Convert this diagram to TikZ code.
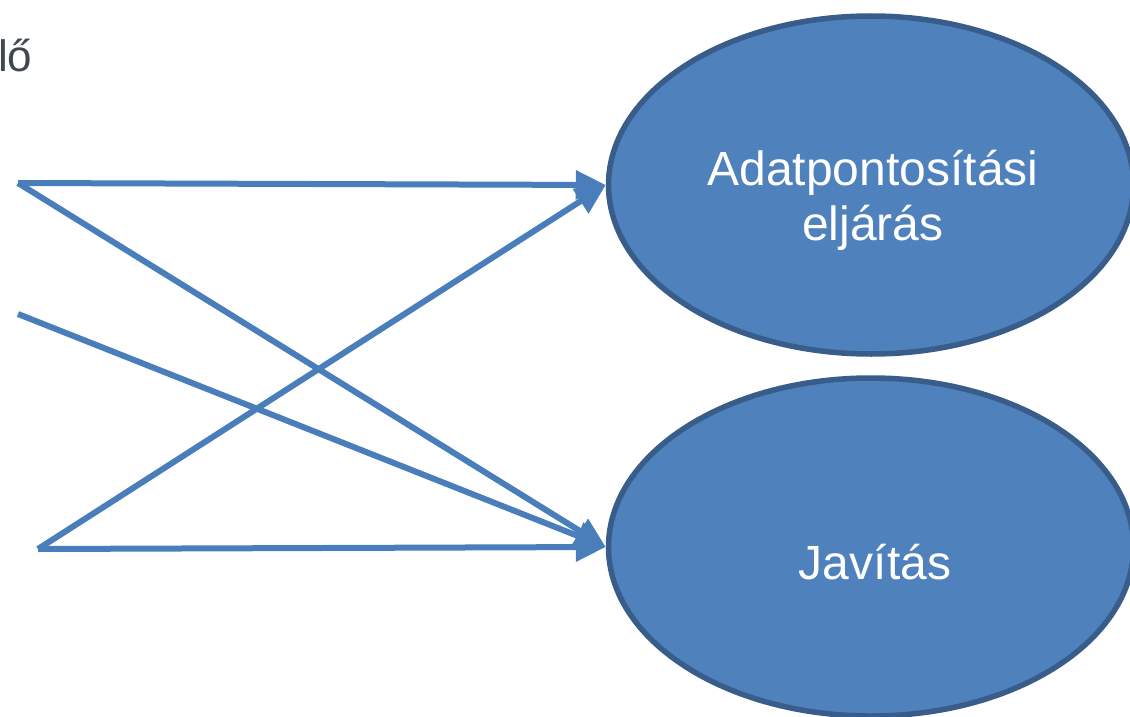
\documentclass[tikz,border=0pt]{standalone}
\usepackage{fontspec}
\setmainfont{Liberation Sans}
\usetikzlibrary{shapes.geometric,arrows.meta}
\definecolor{fillblue}{HTML}{4F81BD}
\definecolor{edgeblue}{HTML}{385D8A}
\definecolor{arrowblue}{HTML}{4A7EBB}
\definecolor{textgray}{HTML}{3F4850}
\begin{document}
\begin{tikzpicture}[x=1pt,y=-1pt,
  bubble/.style={ellipse, draw=edgeblue, fill=fillblue, line width=5.5pt,
    minimum width=525pt, minimum height=338pt, inner sep=0pt},
  bubbletext/.style={anchor=base, text=white, inner sep=0pt,
    font=\fontsize{48}{55}\selectfont},
  conn/.style={draw=arrowblue, line width=6pt,
    -{Triangle[length=30pt,width=28pt]}}]
\useasboundingbox (0,0) rectangle (1130,717);
\clip (0,0) rectangle (1130,717);
\node[anchor=base west, inner sep=0pt, text=textgray,
  font=\fontsize{44}{50}\selectfont] (frag) at (-2,72) {lő};
\node[bubble] (proc) at (871,185) {};
\node[bubble] (fix) at (871,547) {};
\node[bubbletext] (proct1) at (873,185) {Adatpontosítási};
\node[bubbletext] (proct2) at (873,240) {eljárás};
\node[bubbletext] (fixt) at (875,579) {Javítás};
\coordinate (s1) at (18,183);
\coordinate (s2) at (18,314);
\coordinate (s3) at (38,549);
\draw[conn] (s1) -- (proc.west);
\draw[conn] (s1) -- (fix.west);
\draw[conn] (s2) -- (fix.west);
\draw[conn] (s3) -- (fix.west);
\draw[conn] (s3) -- (proc.west);
\end{tikzpicture}
\end{document}
